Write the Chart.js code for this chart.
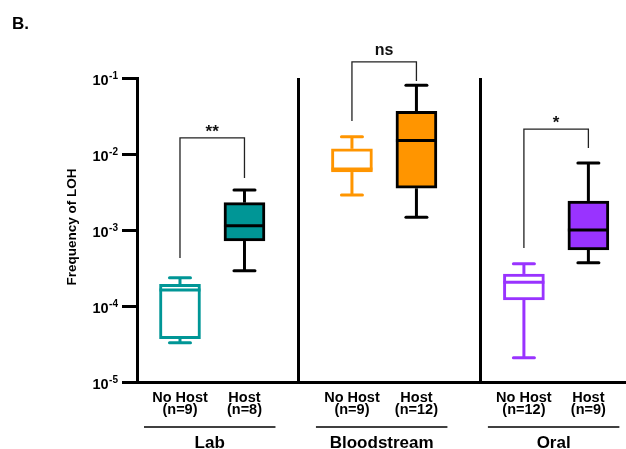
<!DOCTYPE html>
<html>
<head>
<meta charset="utf-8">
<title>Frequency of LOH</title>
<script src="https://cdn.jsdelivr.net/npm/chart.js@4.4.0/dist/chart.umd.min.js"></script>
<style>
  html, body { margin: 0; padding: 0; background: #fff; }
  #wrap { width: 626px; height: 449px; }
</style>
</head>
<body>
<div id="wrap"><canvas id="loh" width="626" height="449"></canvas></div>
<script>
// Data
const groups = ['Lab', 'Bloodstream', 'Oral'];
const conditions = ['No Host', 'Host', 'No Host', 'Host', 'No Host', 'Host'];
const sampleSizes = ['(n=9)', '(n=8)', '(n=9)', '(n=12)', '(n=12)', '(n=9)'];
const xPositions = [2, 5, 10, 13, 18, 21];
const separators = [7.5, 16];

const whiskerLow  = [3.29e-5, 2.91e-4, 2.89e-3, 1.47e-3, 2.09e-5, 3.72e-4];
const q1          = [3.71e-5, 7.16e-4, 5.79e-3, 3.54e-3, 1.20e-4, 5.46e-4];
const median      = [1.62e-4, 1.14e-3, 6.35e-3, 1.50e-2, 2.05e-4, 1.00e-3];
const q3          = [1.93e-4, 2.29e-3, 1.17e-2, 3.65e-2, 2.64e-4, 2.41e-3];
const whiskerHigh = [2.36e-4, 3.36e-3, 1.69e-2, 8.02e-2, 3.61e-4, 7.60e-3];

const boxColors = ['#009696', '#009696', '#FF9500', '#FF9500', '#9933FF', '#9933FF'];
const filled = [false, true, false, true, false, true];

const yTicks = [1e-5, 1e-4, 1e-3, 1e-2, 1e-1];
const yTickExponents = ['-5', '-4', '-3', '-2', '-1'];

// significance brackets (one per group)
const bracketLabels = ['**', 'ns', '*'];
const bracketTop = [1.63e-2, 0.163, 2.13e-2];
const bracketLeftEnd = [4.28e-4, 2.72e-2, 5.79e-4];
const bracketRightEnd = [4.83e-3, 9.14e-2, 1.20e-2];

const FONT = '"Liberation Sans", Arial, sans-serif';

function line(ctx, x1, y1, x2, y2) {
    ctx.beginPath();
    ctx.moveTo(x1, y1);
    ctx.lineTo(x2, y2);
    ctx.stroke();
}

// whiskers, caps and medians on top of the floating bars
const boxPlotPlugin = {
    id: 'boxPlot',
    afterDatasetsDraw(chart) {
        const ctx = chart.ctx;
        const xs = chart.scales.x, ys = chart.scales.y;
        const meta = chart.getDatasetMeta(0);
        ctx.save();
        meta.data.forEach((bar, i) => {
            const cx = xs.getPixelForValue(xPositions[i]);
            const half = bar.width / 2;
            ctx.strokeStyle = filled[i] ? '#000' : boxColors[i];
            ctx.lineWidth = 3;
            ctx.lineCap = 'butt';
            const yLo = ys.getPixelForValue(whiskerLow[i]);
            const yQ1 = ys.getPixelForValue(q1[i]);
            const yMed = ys.getPixelForValue(median[i]);
            const yQ3 = ys.getPixelForValue(q3[i]);
            const yHi = ys.getPixelForValue(whiskerHigh[i]);
            line(ctx, cx, yQ3, cx, yHi);
            line(ctx, cx, yQ1, cx, yLo);
            line(ctx, cx - half, yMed, cx + half, yMed);
            ctx.lineCap = 'round';
            line(ctx, cx - 10.5, yHi, cx + 10.5, yHi);
            line(ctx, cx - 10.5, yLo, cx + 10.5, yLo);
        });
        ctx.restore();
    },
    afterDraw(chart) {
        const ctx = chart.ctx;
        const xs = chart.scales.x, ys = chart.scales.y;
        ctx.save();
        ctx.fillStyle = '#000';

        // panel letter
        ctx.font = 'bold 17px ' + FONT;
        ctx.textAlign = 'left';
        ctx.textBaseline = 'alphabetic';
        ctx.fillText('B.', 12, 29);

        // y tick labels 10^n
        yTicks.forEach((v, i) => {
            const py = ys.getPixelForValue(v);
            ctx.font = 'bold 10px ' + FONT;
            ctx.textAlign = 'right';
            ctx.textBaseline = 'alphabetic';
            const supW = ctx.measureText(yTickExponents[i]).width;
            ctx.fillText(yTickExponents[i], 118, py + 1);
            ctx.font = 'bold 14.5px ' + FONT;
            ctx.fillText('10', 118 - supW - 0.5, py + 7);
        });

        // y axis title
        ctx.save();
        ctx.translate(72, 227);
        ctx.rotate(-Math.PI / 2);
        ctx.font = 'bold 13.5px ' + FONT;
        ctx.textAlign = 'center';
        ctx.textBaseline = 'middle';
        ctx.fillText('Frequency of LOH', 0, 0);
        ctx.restore();

        // category labels
        ctx.textAlign = 'center';
        ctx.textBaseline = 'alphabetic';
        ctx.font = 'bold 14.5px ' + FONT;
        xPositions.forEach((xv, i) => {
            const cx = xs.getPixelForValue(xv);
            ctx.fillText(conditions[i], cx, 401.5);
            ctx.fillText(sampleSizes[i], cx, 414);
        });

        // group underlines and names
        ctx.strokeStyle = '#000';
        ctx.lineWidth = 1.5;
        groups.forEach((g, k) => {
            const left = xs.getPixelForValue(xPositions[2 * k]) - 36;
            const right = xs.getPixelForValue(xPositions[2 * k + 1]) + 31;
            line(ctx, left, 427, right, 427);
            ctx.font = 'bold 17px ' + FONT;
            ctx.fillText(g, (left + right) / 2, 448);
        });

        // significance brackets
        ctx.strokeStyle = '#222';
        ctx.lineWidth = 1.3;
        ctx.lineCap = 'butt';
        bracketLabels.forEach((lab, k) => {
            const xl = xs.getPixelForValue(xPositions[2 * k]);
            const xr = xs.getPixelForValue(xPositions[2 * k + 1]);
            const yt = ys.getPixelForValue(bracketTop[k]);
            ctx.beginPath();
            ctx.moveTo(xl, ys.getPixelForValue(bracketLeftEnd[k]));
            ctx.lineTo(xl, yt);
            ctx.lineTo(xr, yt);
            ctx.lineTo(xr, ys.getPixelForValue(bracketRightEnd[k]));
            ctx.stroke();
            ctx.fillStyle = '#111';
            if (lab === 'ns') {
                ctx.font = 'bold 16px ' + FONT;
                ctx.fillText(lab, (xl + xr) / 2, yt - 7);
            } else {
                ctx.font = 'bold 17px ' + FONT;
                ctx.fillText(lab, (xl + xr) / 2, yt - 1);
            }
        });
        ctx.restore();
    }
};

new Chart(document.getElementById('loh').getContext('2d'), {
    type: 'bar',
    data: {
        datasets: [{
            data: xPositions.map((xv, i) => ({x: xv, y: [q1[i], q3[i]]})),
            backgroundColor: boxColors.map((c, i) => filled[i] ? c : '#fff'),
            borderColor: boxColors.map((c, i) => filled[i] ? '#000' : c),
            borderWidth: 3,
            borderSkipped: false,
            barThickness: 41
        }]
    },
    options: {
        responsive: false,
        devicePixelRatio: 1,
        animation: false,
        layout: { padding: { left: 122, top: 78, right: 0, bottom: 67 } },
        plugins: {
            legend: { display: false },
            tooltip: { enabled: false }
        },
        scales: {
            x: {
                type: 'linear',
                min: 0,
                max: 22.75,
                offset: false,
                afterBuildTicks: (scale) => { scale.ticks = separators.map(v => ({value: v})); },
                ticks: { display: false },
                grid: { offset: false, drawOnChartArea: true, drawTicks: false, lineWidth: 3, color: '#000' },
                border: { display: true, width: 3, color: '#000' }
            },
            y: {
                type: 'logarithmic',
                min: 1e-5,
                max: 1e-1,
                afterBuildTicks: (scale) => { scale.ticks = yTicks.map(v => ({value: v})); },
                ticks: { display: false },
                grid: { drawOnChartArea: false, drawTicks: true, tickLength: 15, lineWidth: 3, color: '#000' },
                border: { display: true, width: 3, color: '#000' }
            }
        }
    },
    plugins: [boxPlotPlugin]
});
</script>
</body>
</html>
